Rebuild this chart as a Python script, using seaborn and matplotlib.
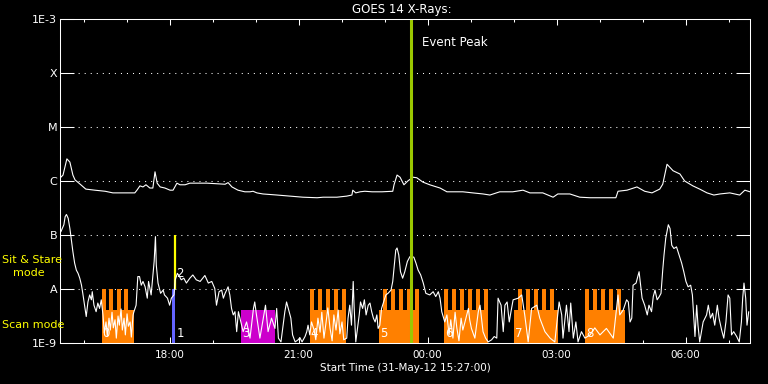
import numpy as np
import pandas as pd
import matplotlib
matplotlib.use("Agg")
import matplotlib.pyplot as plt
import matplotlib.dates as mdates
from matplotlib.ticker import NullLocator
from matplotlib.transforms import offset_copy
import seaborn as sns

# time axis: hours after the start time
start = pd.Timestamp("2012-05-31 15:27:00")
end_hours = 16.05

# GOES 14 long channel (1-8 A): hours after start, log10 flux
long_hours = [0.02, 0.07, 0.16, 0.23, 0.30, 0.35, 0.47, 0.60, 0.81, 1.05, 1.23, 1.51, 1.74, 1.79, 1.86,
              1.93, 2.00, 2.09, 2.16, 2.21, 2.26, 2.33, 2.44, 2.56, 2.63, 2.72, 2.79, 2.91, 3.02, 3.42,
              3.84, 3.91, 4.00, 4.14, 4.30, 4.42, 4.49, 4.58, 4.72, 5.05, 5.35, 5.65, 5.98, 6.12, 6.28,
              6.44, 6.67, 6.79, 6.81, 6.88, 6.98, 7.09, 7.26, 7.49, 7.74, 7.77, 7.84, 7.91, 8.00, 8.09,
              8.21, 8.30, 8.44, 8.60, 8.84, 9.00, 9.23, 9.37, 9.60, 9.84, 10.00, 10.23, 10.53, 10.77,
              10.93, 11.23, 11.47, 11.58, 11.86, 12.09, 12.33, 12.56, 12.93, 12.98, 13.19, 13.42, 13.60,
              13.77, 13.95, 14.02, 14.12, 14.26, 14.42, 14.53, 14.72, 14.88, 15.05, 15.21, 15.35, 15.58,
              15.81, 15.93, 16.05]
long_logflux = [-5.93, -5.89, -5.59, -5.65, -5.89, -5.98, -6.06, -6.15, -6.17, -6.19, -6.22, -6.22, -6.22, -6.17, -6.09,
                -6.11, -6.07, -6.13, -6.13, -5.83, -6.04, -6.11, -6.13, -6.17, -6.17, -6.04, -6.07, -6.07, -6.04, -6.04,
                -6.06, -6.03, -6.11, -6.17, -6.20, -6.20, -6.19, -6.22, -6.24, -6.26, -6.28, -6.30, -6.31, -6.30, -6.30,
                -6.30, -6.28, -6.26, -6.17, -6.22, -6.20, -6.19, -6.20, -6.20, -6.19, -6.07, -5.89, -5.93, -6.07, -6.00,
                -5.93, -5.94, -6.02, -6.07, -6.13, -6.20, -6.20, -6.20, -6.22, -6.24, -6.26, -6.20, -6.20, -6.17,
                -6.22, -6.22, -6.30, -6.24, -6.24, -6.30, -6.31, -6.31, -6.31, -6.19, -6.17, -6.11, -6.19,
                -6.22, -6.15, -6.06, -5.69, -5.81, -5.87, -6.00, -6.09, -6.15, -6.22, -6.26, -6.24, -6.22,
                -6.26, -6.17, -6.20]

# GOES 14 short channel (0.5-4 A)
short_hours = [0.02, 0.09, 0.12, 0.15, 0.19, 0.23, 0.26, 0.30, 0.34, 0.38, 0.42, 0.46, 0.50, 0.53, 0.57,
               0.61, 0.65, 0.69, 0.73, 0.75, 0.79, 0.84, 0.88, 0.92, 0.96,
               1.00, 1.03, 1.07, 1.10, 1.14, 1.17, 1.21, 1.24, 1.28, 1.31, 1.35, 1.38, 1.42, 1.45, 1.49,
               1.52, 1.56, 1.59, 1.63, 1.66, 1.70, 1.72,
               1.77, 1.81, 1.85, 1.89, 1.93, 1.98, 2.03, 2.06, 2.12, 2.19, 2.22, 2.24, 2.28, 2.34, 2.40,
               2.43, 2.50, 2.55, 2.59, 2.65, 2.68, 2.73, 2.78, 2.82, 2.88, 2.94, 3.02, 3.09, 3.17, 3.26,
               3.37, 3.45, 3.53, 3.60, 3.64, 3.70, 3.76, 3.80, 3.84, 3.91, 3.95, 3.99, 4.03, 4.07, 4.11, 4.15,
               4.26, 4.34, 4.42, 4.50, 4.53, 4.57, 4.65, 4.73, 4.78, 4.84, 4.92, 5.00, 5.04, 5.08, 5.14,
               5.19, 5.23, 5.27, 5.33, 5.37, 5.41, 5.47, 5.54, 5.58, 5.63, 5.70, 5.74, 5.77, 5.81, 5.85,
               5.91, 5.95, 6.00, 6.05, 6.09, 6.14, 6.19, 6.23, 6.28, 6.33, 6.37, 6.42, 6.47, 6.51, 6.56, 6.60,
               6.67, 6.70, 6.74, 6.78, 6.82, 6.84, 6.88, 6.91, 6.96, 6.99, 7.04, 7.08, 7.12, 7.17, 7.21,
               7.25, 7.29, 7.33, 7.37, 7.40, 7.44, 7.48, 7.52, 7.58, 7.63, 7.70, 7.74, 7.77, 7.81, 7.84,
               7.88, 7.92, 7.97, 8.02, 8.08, 8.14, 8.23, 8.28, 8.33, 8.39, 8.45, 8.51, 8.60, 8.68, 8.74,
               8.80, 8.84, 8.88, 8.95,
               9.00, 9.05, 9.09, 9.14, 9.19, 9.23, 9.28, 9.33, 9.37, 9.42,
               9.50, 9.53, 9.57, 9.65, 9.73, 9.77, 9.84, 9.90, 9.96, 10.04, 10.10, 10.16, 10.19, 10.26,
               10.31, 10.35, 10.40, 10.45, 10.49, 10.54,
               10.66, 10.74, 10.81, 10.89, 10.97, 11.09, 11.16, 11.28, 11.40, 11.51, 11.61, 11.67, 11.70,
               11.78, 11.84, 11.88, 11.94, 12.00, 12.05, 12.13, 12.21,
               12.33, 12.44, 12.56, 12.71, 12.87, 12.98, 13.02, 13.10, 13.18, 13.22, 13.26, 13.30, 13.33,
               13.40, 13.43, 13.47, 13.50, 13.54, 13.60, 13.66, 13.70, 13.76, 13.80, 13.84, 13.89, 13.94,
               13.98, 14.02, 14.05, 14.09, 14.15, 14.19, 14.23, 14.28, 14.34, 14.40, 14.46, 14.51, 14.56,
               14.61, 14.67, 14.71, 14.74, 14.77, 14.81, 14.84, 14.88, 14.96, 15.04, 15.08, 15.13, 15.18,
               15.23, 15.29, 15.33, 15.39, 15.44, 15.49, 15.54, 15.58, 15.62, 15.67, 15.74, 15.80, 15.85,
               15.88, 15.91, 15.95, 15.98, 16.02]
short_logflux = [-6.94, -6.81, -6.66, -6.62, -6.69, -6.88, -7.06, -7.31, -7.52, -7.65, -7.71, -7.80, -7.93, -8.08, -8.30,
                 -8.51, -8.24, -8.11, -8.20, -8.05, -8.30, -8.42, -8.26, -8.36, -8.20,
                 -8.48, -8.81, -8.61, -8.87, -8.54, -8.76, -8.43, -8.72, -8.57, -8.91, -8.50, -8.67, -8.37, -8.76, -8.54,
                 -8.85, -8.46, -8.69, -8.61, -8.89, -8.48, -8.42,
                 -8.30, -7.77, -7.77, -7.93, -7.86, -7.96, -8.17, -7.86, -8.11, -7.49, -7.03, -7.56, -7.89, -8.08, -8.02,
                 -8.11, -8.17, -8.30, -8.17, -8.11, -7.83, -7.71, -7.77, -7.83, -7.80, -7.89, -7.80, -7.74, -7.83, -7.86,
                 -7.75, -7.89, -7.86, -7.99, -8.30, -8.05, -8.02, -8.17, -8.08, -7.96, -8.11, -8.36, -8.48, -8.42, -8.79, -8.42,
                 -8.79, -8.61, -8.91, -8.36, -8.24, -8.48, -8.91, -8.54, -8.30, -8.79, -8.54, -8.73, -8.36, -8.91, -8.98,
                 -8.67, -8.42, -8.24, -8.42, -8.54, -8.85, -8.98, -8.94, -8.90, -8.98, -8.88, -8.79, -8.67, -8.85, -8.61,
                 -8.76, -8.94, -8.54, -8.80, -8.43, -8.91, -8.61, -8.35, -8.72, -8.96, -8.48, -8.76, -8.39, -8.83, -8.61, -8.94,
                 -8.91, -8.54, -8.30, -8.67, -7.86, -8.30, -8.98, -8.79, -8.48, -8.24, -8.36, -8.20, -8.48, -8.30, -8.26,
                 -8.42, -8.54, -8.61, -8.48, -8.73, -8.67, -8.36, -8.26, -8.11, -8.08, -8.02, -7.86, -7.62, -7.28, -7.24,
                 -7.37, -7.68, -7.80, -7.68, -7.49, -7.40, -7.41, -7.52, -7.65, -7.74, -7.89, -8.08, -8.11, -8.05, -8.14,
                 -8.05, -8.17, -8.42, -8.61,
                 -8.48, -8.85, -8.57, -8.91, -8.43, -8.72, -8.96, -8.54, -8.76, -8.61,
                 -8.36, -8.57, -8.73, -8.91, -8.42, -8.30, -8.79, -8.91, -8.98, -8.94, -8.88, -8.91, -8.17, -8.30,
                 -8.79, -8.30, -8.24, -8.61, -8.42, -8.20,
                 -8.17, -8.11, -8.48, -8.98, -8.36, -8.30, -8.54, -8.79, -8.91, -8.98, -8.24, -8.48, -8.91,
                 -8.30, -8.79, -8.26, -8.91, -8.61, -8.98, -8.79, -8.91,
                 -8.85, -8.72, -8.85, -8.73, -8.91, -8.11, -8.48, -8.39, -8.20, -8.24, -8.61, -8.54, -7.93,
                 -7.89, -7.80, -7.68, -7.89, -8.17, -8.30, -8.48, -8.30, -8.42, -8.14, -8.02, -8.20, -8.14,
                 -8.08, -7.65, -7.37, -7.06, -6.81, -6.88, -7.19, -7.25, -7.22, -7.37, -7.52, -7.68, -7.86,
                 -7.96, -7.93, -8.11, -8.48, -8.88, -8.30, -8.67, -8.98, -8.61, -8.48, -8.30, -8.54, -8.45,
                 -8.67, -8.30, -8.54, -8.76, -8.91, -8.61, -8.11, -8.17, -8.85, -8.79, -8.88, -8.98, -8.61,
                 -8.17, -7.89, -8.17, -8.67, -8.42]

# scan-mode rasters (orange) and their sit & stare exposures (hours after start)
scan_labels = ["0", "4", "5", "6", "7", "8"]
scan_start = [0.97, 5.81, 7.42, 8.93, 10.56, 12.21]
scan_end = [1.71, 6.65, 8.35, 9.95, 11.58, 13.14]
stare_start = [[0.97, 1.15, 1.33, 1.50],
               [5.81, 6.00, 6.19, 6.37, 6.56],
               [7.52, 7.70, 7.89, 8.08, 8.26],
               [8.93, 9.12, 9.30, 9.49, 9.67, 9.86],
               [10.65, 10.84, 11.02, 11.21, 11.40],
               [12.21, 12.40, 12.58, 12.77, 12.95]]
stare_hours = 0.093

# other observations
obs1_start, obs1_end = 2.60, 2.67   # blue, label "1"
obs2_time = 2.68                     # yellow, label "2"
obs3_start, obs3_end = 4.21, 5.00    # magenta, label "3"
event_peak = 8.16

level_flux = [1e-3, 1e-4, 1e-5, 1e-6, 1e-7, 1e-8, 1e-9]
level_names = ["1E-3", "X", "M", "C", "B", "A", "1E-9"]

ORANGE = "#FF8000"
BLUE = "#6464FF"
MAGENTA = "#CC00CC"
GREEN = "#9BC800"
YELLOW = "#FFFF00"
SCAN_TOP = 4.1e-9
STARE_TOP = 1e-8

sns.set_style("dark", {"axes.facecolor": "black", "figure.facecolor": "black",
                       "axes.edgecolor": "white", "text.color": "white",
                       "xtick.color": "white", "ytick.color": "white"})
plt.rcParams["font.family"] = ["DejaVu Sans"]


def to_num(h):
    return mdates.date2num(start.to_pydatetime()) + np.asarray(h, dtype=float) / 24.0


fig = plt.figure(figsize=(7.68, 3.84), dpi=100, facecolor="black")
ax = fig.add_axes([60 / 768, 41 / 384, 690 / 768, 324 / 384])
ax.set_facecolor("black")

# observation bars
ax.bar(to_num(scan_start), SCAN_TOP - 1e-9, width=(np.array(scan_end) - np.array(scan_start)) / 24.0,
       bottom=1e-9, align="edge", color=ORANGE, lw=0, zorder=1)
for st in stare_start:
    ax.bar(to_num(st), STARE_TOP - 1e-9, width=stare_hours / 24.0, bottom=1e-9,
           align="edge", color=ORANGE, lw=0, zorder=1)
ax.bar(to_num(obs1_start), STARE_TOP - 1e-9, width=(obs1_end - obs1_start) / 24.0, bottom=1e-9,
       align="edge", color=BLUE, lw=0, zorder=1)
ax.vlines(to_num(obs2_time), STARE_TOP, 1e-7, color=YELLOW, lw=1.6, zorder=1)
ax.bar(to_num(obs3_start), SCAN_TOP - 1e-9, width=(obs3_end - obs3_start) / 24.0, bottom=1e-9,
       align="edge", color=MAGENTA, lw=0, zorder=1)

# dotted class levels
for lv in level_flux[1:-1]:
    ax.axhline(lv, color="white", lw=0.75, ls=(0, (1, 4.8)), zorder=0.5)

# GOES curves
t_long = start + pd.to_timedelta(long_hours, unit="h")
t_short = start + pd.to_timedelta(short_hours, unit="h")
sns.lineplot(x=t_long, y=10 ** np.array(long_logflux), ax=ax, color="white",
             lw=0.8, estimator=None, sort=False, zorder=3)
sns.lineplot(x=t_short, y=10 ** np.array(short_logflux), ax=ax, color="white",
             lw=0.8, estimator=None, sort=False, zorder=3)

ax.axvline(to_num(event_peak), color=GREEN, lw=2.2, zorder=4)
ax.text(to_num(event_peak), 3.6e-4, "Event Peak", fontsize=8.5, color="white", va="center",
        transform=offset_copy(ax.transData, fig=fig, x=11, y=0, units="dots"))

# observation numbers
lab_tr = offset_copy(ax.transData, fig=fig, x=1, y=0, units="dots")
for lab, s in zip(scan_labels, scan_start):
    ax.text(to_num(s), 1.29e-9, lab, color="white", fontsize=8.5, va="baseline", transform=lab_tr, zorder=5)
ax.text(to_num(obs2_time), 1.29e-9, "1", color="white", fontsize=8.5, va="baseline", transform=lab_tr, zorder=5)
ax.text(to_num(obs2_time), 1.66e-8, "2", color="white", fontsize=8.5, va="baseline", transform=lab_tr, zorder=5)
ax.text(to_num(obs3_start), 1.29e-9, "3", color="white", fontsize=8.5, va="baseline", transform=lab_tr, zorder=5)

# axes
ax.set_yscale("log")
ax.set_ylim(1e-9, 1e-3)
ax.set_xlim(to_num(0), to_num(end_hours))
ax.set_yticks(level_flux)
ax.set_yticklabels(level_names)
ax.yaxis.set_minor_locator(NullLocator())
ax.xaxis.set_major_locator(mdates.HourLocator(byhour=range(0, 24, 3)))
ax.xaxis.set_minor_locator(mdates.HourLocator())
ax.xaxis.set_major_formatter(mdates.DateFormatter("%H:%M"))
ax.tick_params(axis="y", which="major", direction="in", length=10, width=0.75,
               left=True, right=True, colors="white", labelsize=8, pad=2)
ax.tick_params(axis="x", which="major", direction="in", length=4.3, width=0.75,
               top=True, bottom=True, colors="white", labelsize=7.5, pad=5)
ax.tick_params(axis="x", which="minor", direction="in", length=2.2, width=0.75,
               top=True, bottom=True, colors="white")
ax.grid(False)
ax.set_xlabel("")
ax.set_ylabel("")
for sp in ax.spines.values():
    sp.set_color("white")
    sp.set_linewidth(0.75)
    sp.set_zorder(6)

fig.text(402 / 768, 1 - 9 / 384, "GOES 14 X-Rays:", ha="center", va="center", fontsize=8.5, color="white")
fig.text(405 / 768, 1 - 368 / 384, "Start Time (31-May-12 15:27:00)", ha="center", va="center",
         fontsize=7.5, color="white")
fig.text(2 / 768, 1 - 263 / 384, "Sit & Stare", color=YELLOW, fontsize=8, va="baseline", zorder=7)
fig.text(12.7 / 768, 1 - 275.5 / 384, "mode", color=YELLOW, fontsize=8, va="baseline", zorder=7)
fig.text(2 / 768, 1 - 328.5 / 384, "Scan mode", color=YELLOW, fontsize=8, va="baseline", zorder=7)

fig.savefig("out.png", dpi=100, facecolor="black")
